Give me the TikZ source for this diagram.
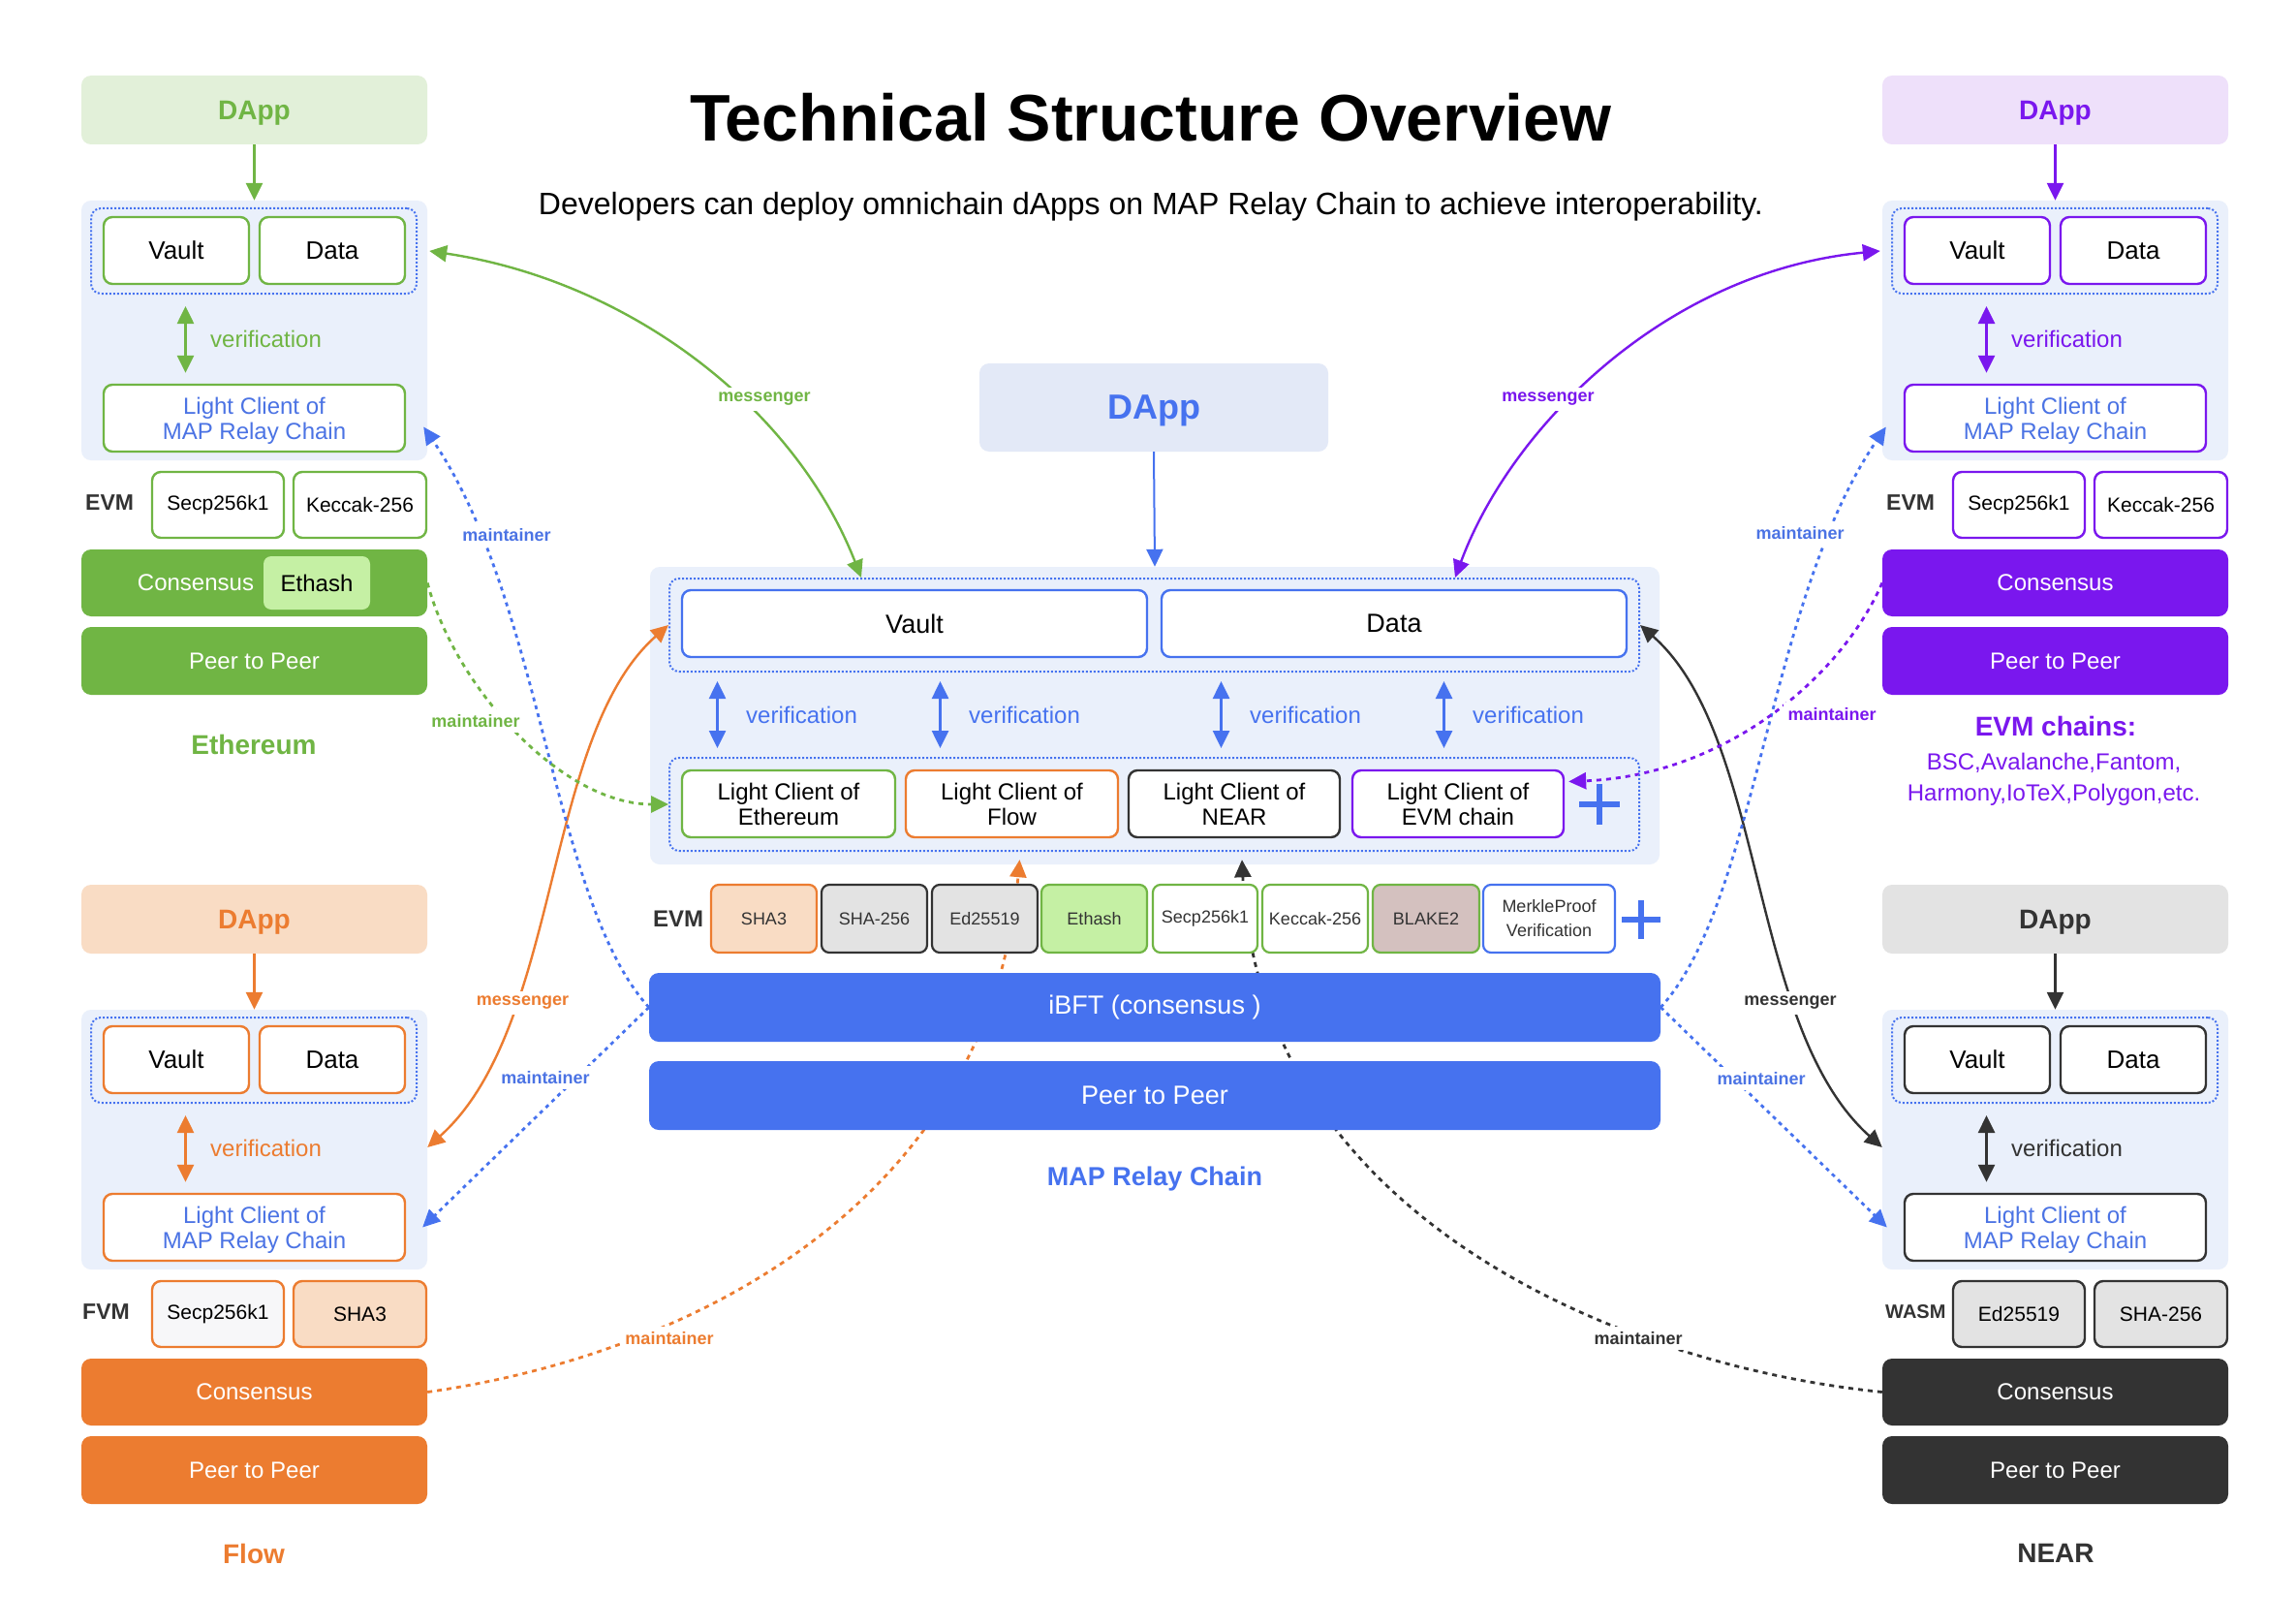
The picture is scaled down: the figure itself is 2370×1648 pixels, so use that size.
\documentclass[tikz,border=0pt]{standalone}
\usepackage{fontspec}
\setmainfont{Liberation Sans}
\usetikzlibrary{arrows.meta,calc}
\definecolor{cgreen}{HTML}{70B544}
\definecolor{greenlight}{HTML}{E2F0D9}
\definecolor{ethashfill}{HTML}{C5F0A4}
\definecolor{corange}{HTML}{EC7C30}
\definecolor{orangelight}{HTML}{F9DCC4}
\definecolor{cpurple}{HTML}{7A17EE}
\definecolor{purplelight}{HTML}{EEE0FA}
\definecolor{cdark}{HTML}{333333}
\definecolor{graylight}{HTML}{E3E3E3}
\definecolor{cblue}{HTML}{4672EF}
\definecolor{lcblue}{HTML}{4B73E4}
\definecolor{panelbg}{HTML}{EAF0FB}
\definecolor{cdappfill}{HTML}{E3E9F7}
\definecolor{blakefill}{HTML}{D4C1BF}
\definecolor{secpfill}{HTML}{F7F7F9}
\pgfdeclarelayer{back}
\pgfdeclarelayer{conn}
\pgfdeclarelayer{front}
\pgfsetlayers{back,conn,main,front}
\newcommand\fsz[2]{\fontsize{#1}{#2}\selectfont}
\newcommand\bx[7]{\node[inner sep=0pt,align=center,#2,minimum width={(#5-#3)*1pt},minimum height={(#6-#4)*1pt}] (#1) at ({(#3+#5)/2},{(#4+#6)/2}) {#7};}
\tikzset{
 Tri/.tip={Triangle[length=18pt,width=17pt]},
 panel/.style={fill=panelbg,rounded corners=10pt},
 dotbox/.style={draw=cblue,line width=2pt,dash pattern=on 2pt off 2pt,rounded corners=10pt},
 wbox/.style={fill=white,line width=2.4pt,rounded corners=9pt,font=\fsz{26}{28}},
 lcbox/.style={fill=white,line width=2.4pt,rounded corners=9pt,font=\fsz{24}{26},text depth=0pt},
 dappbox/.style={rounded corners=10pt,font=\bfseries\fsz{28}{30},text depth=0pt},
 bar/.style={rounded corners=10pt,text=white,font=\fsz{24}{26}},
 cbox/.style={fill=white,line width=2.4pt,rounded corners=9pt,font=\fsz{21}{23}},
 kbox/.style={line width=2.2pt,rounded corners=8pt,text=cdark,font=\fsz{18}{25}},
 vmlab/.style={text=cdark,font=\bfseries\fsz{23}{25},anchor=west,inner sep=0pt},
 arr/.style={line width=2.6pt,-Tri},
 dbl/.style={line width=2.6pt,Tri-Tri},
 msg/.style={line width=2.4pt,Tri-Tri},
 mnt/.style={line width=2.8pt,dash pattern=on 5pt off 5pt,-Tri},
 mntb/.style={line width=2.8pt,-Tri,cblue,dash pattern=on 4pt off 4.5pt},
 lbl/.style={fill=white,inner sep=5pt,font=\bfseries\fsz{18}{20}},
 vtext/.style={font=\fsz{24}{26},anchor=west,inner sep=0pt},
 chainlab/.style={font=\bfseries\fsz{28}{30}},
}
\newcommand\sidecore[3]{%
 \bx{#1dapp}{dappbox,fill=#3,text=#2}{0}{0}{357}{71}{DApp}
 \begin{pgfonlayer}{back}\bx{#1panel}{panel}{0}{129}{357}{397}{}\end{pgfonlayer}
 \bx{#1dot}{dotbox}{10}{137}{346}{225}{}
 \bx{#1vault}{wbox,draw=#2}{23}{146}{173}{215}{Vault}
 \bx{#1data}{wbox,draw=#2}{184}{146}{334}{215}{Data}
 \bx{#1lc}{lcbox,draw=#2,text=lcblue}{23}{319}{334}{388}{Light Client of\\MAP Relay Chain}
 \coordinate (#1vx) at (107.5,0);
 \draw[dbl,#2,shorten <=12pt,shorten >=11pt] (#1dot.south -| #1vx) -- (#1lc.north -| #1vx);
 \node[vtext,text=#2] (#1vt) at (133,272) {verification};
 \draw[arr,#2] (#1dapp.south) -- (#1panel.north);
}
\begin{document}
\begin{tikzpicture}[x=1pt,y=-1pt]
\useasboundingbox (0,0) rectangle (2370,1648);
\begin{pgfonlayer}{back}\fill[white] (0,0) rectangle (2370,1648);\end{pgfonlayer}

% title
\node[font=\bfseries\fsz{68}{72}] (title) at (1188,121) {Technical Structure Overview};
\node[font=\fsz{32}{36}] (subtitle) at (1188,213) {Developers can deploy omnichain dApps on MAP Relay Chain to achieve interoperability.};

% Ethereum
\begin{scope}[shift={(84,78)}]
\sidecore{e}{cgreen}{greenlight}
\node[vmlab] (elab) at (4,441) {EVM};
\bx{esecp}{cbox,draw=cgreen}{73}{409}{209}{477}{Secp256k1}
\bx{ekec}{cbox,draw=cgreen}{219}{409}{356}{477}{Keccak-256}
\bx{econs}{bar,fill=cgreen}{0}{489}{357}{558}{}
\node[text=white,font=\fsz{24}{26}] (econst) at (118,523.5) {Consensus};
\bx{ethash}{rounded corners=8pt,fill=ethashfill,font=\fsz{24}{26}}{188}{496}{298}{551}{Ethash}
\bx{ep2p}{bar,fill=cgreen}{0}{569}{357}{639}{Peer to Peer}
\node[chainlab,text=cgreen] (ename) at (178,690) {Ethereum};
\end{scope}

% EVM chains
\begin{scope}[shift={(1943,78)}]
\sidecore{v}{cpurple}{purplelight}
\node[vmlab] (vlab) at (4,441) {EVM};
\bx{vsecp}{cbox,draw=cpurple}{73}{409}{209}{477}{Secp256k1}
\bx{vkec}{cbox,draw=cpurple}{219}{409}{356}{477}{Keccak-256}
\bx{vcons}{bar,fill=cpurple}{0}{489}{357}{558}{Consensus}
\bx{vp2p}{bar,fill=cpurple}{0}{569}{357}{639}{Peer to Peer}
\node[chainlab,text=cpurple] (vname) at (179,671) {EVM chains:};
\node[text=cpurple,font=\fsz{24}{32},align=center] (vlist) at (177,726) {BSC,Avalanche,Fantom,\\Harmony,IoTeX,Polygon,etc.};
\end{scope}

% Flow
\begin{scope}[shift={(84,913)}]
\sidecore{f}{corange}{orangelight}
\node[vmlab] (flab) at (1,441) {FVM};
\bx{fsecp}{cbox,draw=corange,fill=secpfill}{73}{409}{209}{477}{Secp256k1}
\bx{fsha}{cbox,draw=corange,fill=orangelight}{219}{409}{356}{477}{SHA3}
\bx{fcons}{bar,fill=corange}{0}{489}{357}{558}{Consensus}
\bx{fp2p}{bar,fill=corange}{0}{569}{357}{639}{Peer to Peer}
\node[chainlab,text=corange] (fname) at (178,690) {Flow};
\end{scope}

% NEAR
\begin{scope}[shift={(1943,913)}]
\sidecore{n}{cdark}{graylight}
\node[vmlab,font=\bfseries\fsz{20}{22}] (nlab) at (3,441) {WASM};
\bx{ned}{cbox,draw=cdark,fill=graylight}{73}{409}{209}{477}{Ed25519}
\bx{nsha}{cbox,draw=cdark,fill=graylight}{219}{409}{356}{477}{SHA-256}
\bx{ncons}{bar,fill=cdark}{0}{489}{357}{558}{Consensus}
\bx{np2p}{bar,fill=cdark}{0}{569}{357}{639}{Peer to Peer}
\node[chainlab,text=cdark] (nname) at (179,690) {NEAR};
\end{scope}

% central
\bx{cdapp}{dappbox,fill=cdappfill,text=cblue,font=\bfseries\fsz{36}{40}}{1011}{375}{1371}{466}{DApp}
\begin{pgfonlayer}{back}\bx{cpanel}{panel}{671}{585}{1713}{892}{}\end{pgfonlayer}
\draw[line width=2pt,-Tri,cblue] (cdapp.south) -- (cpanel.north);
\bx{ctop}{dotbox}{691}{597}{1692}{693}{}
\bx{cvault}{wbox,draw=cblue,font=\fsz{27}{29}}{704}{609}{1184}{678}{Vault}
\bx{cdata}{wbox,draw=cblue,font=\fsz{27}{29}}{1199}{609}{1679}{678}{Data}
\bx{cbot}{dotbox}{691}{782}{1692}{878}{}
\bx{lceth}{lcbox,draw=cgreen}{704}{795}{924}{864}{Light Client of\\Ethereum}
\bx{lcflow}{lcbox,draw=corange}{935}{795}{1154}{864}{Light Client of\\Flow}
\bx{lcnear}{lcbox,draw=cdark}{1165}{795}{1383}{864}{Light Client of\\NEAR}
\bx{lcevm}{lcbox,draw=cpurple}{1396}{795}{1614}{864}{Light Client of\\EVM chain}
\foreach \i/\x in {1/740.5,2/970.5,3/1260.5,4/1490.5}{
 \coordinate (cv\i) at (\x,0);
 \draw[dbl,cblue,shorten <=9pt,shorten >=9pt] (ctop.south -| cv\i) -- (cbot.north -| cv\i);
 \node[vtext,text=cblue] (cvt\i) at ({\x+29.5},738) {verification};
}
\coordinate (plusa) at (1651,830);
\draw[cblue,line width=6pt] ($(plusa)+(-21,0)$) -- ($(plusa)+(21,0)$) ($(plusa)+(0,-21)$) -- ($(plusa)+(0,21)$);

\node[vmlab,font=\bfseries\fsz{24}{26}] (cevm) at (674,948) {EVM};
\bx{ksha3}{kbox,fill=orangelight,draw=corange}{734}{913}{843}{983}{SHA3}
\bx{ksha256}{kbox,fill=graylight,draw=cdark}{848}{913}{957}{983}{SHA-256}
\bx{ked}{kbox,fill=graylight,draw=cdark}{962}{913}{1071}{983}{Ed25519}
\bx{keth}{kbox,fill=ethashfill,draw=cgreen}{1075}{913}{1184}{983}{Ethash}
\bx{ksecp}{kbox,fill=white,draw=cgreen}{1190}{913}{1298}{983}{Secp256k1}
\bx{kkec}{kbox,fill=white,draw=cgreen}{1303}{913}{1412}{983}{Keccak-256}
\bx{kblake}{kbox,fill=blakefill,draw=cgreen}{1417}{913}{1527}{983}{BLAKE2}
\bx{kmerkle}{kbox,fill=white,draw=cblue}{1531}{913}{1667}{983}{MerkleProof\\Verification}
\coordinate (plusb) at (1694,949);
\draw[cblue,line width=5.5pt] ($(plusb)+(-20,0)$) -- ($(plusb)+(20,0)$) ($(plusb)+(0,-20)$) -- ($(plusb)+(0,20)$);

\bx{ibft}{bar,fill=cblue,font=\fsz{27}{29}}{670}{1004}{1714}{1075}{iBFT (consensus )}
\bx{cp2p}{bar,fill=cblue,font=\fsz{27}{29}}{670}{1095}{1714}{1166}{Peer to Peer}
\node[chainlab,text=cblue,font=\bfseries\fsz{27}{29}] (cname) at (1192,1217) {MAP Relay Chain};

% connectors
\begin{pgfonlayer}{conn}
% messengers
\draw[msg,cgreen] ($(epanel.east |- edot.center)+(2,0)$) .. controls (650,290) and (820,420) .. ($(ctop.north west)+(199,0)$);
\draw[msg,cpurple] ($(ctop.north west)+(812,0)$) .. controls (1560,440) and (1720,280) .. ($(vpanel.west |- vdot.center)+(-2,0)$);
\draw[msg,corange] (ctop.west) .. controls (560,760) and (580,1060) .. ($(fpanel.east)+(0,8)$);
\draw[msg,cdark] (ctop.east) .. controls (1824,760) and (1804,1060) .. ($(npanel.west)+(0,8)$);
% blue maintainers
\draw[mntb] (ibft.west) .. controls (570,930) and (560,620) .. ($(epanel.east |- elc.center)+(-4,9)$);
\draw[mntb] (ibft.west) -- ($(fpanel.east |- flc.center)+(-5,0)$);
\draw[mntb] (ibft.east) .. controls (1814,930) and (1824,620) .. ($(vpanel.west |- vlc.center)+(4,9)$);
\draw[mntb] (ibft.east) -- ($(npanel.west |- nlc.center)+(5,0)$);
% chain maintainers
\draw[mnt,cgreen] (econs.east) .. controls (470,710) and (580,830) .. (cbot.west);
\draw[mnt,cpurple] (vcons.west) .. controls (1900,700) and (1780,800) .. ($(lcevm.east)+(4,-23)$);
\draw[mnt,corange] (fcons.east) .. controls (700,1400) and (1020,1250) .. ($(lcflow.south)+(8,22)$);
\draw[mnt,cdark] (ncons.west) .. controls (1680,1410) and (1300,1260) .. ($(lcnear.south)+(8,22)$);
\end{pgfonlayer}

\begin{pgfonlayer}{front}
\node[lbl,text=cgreen] (lm1) at (789,412) {messenger};
\node[lbl,text=cpurple] (lm2) at (1598,412) {messenger};
\node[lbl,text=corange] (lm3) at (539.5,1035) {messenger};
\node[lbl,text=cdark] (lm4) at (1848,1035) {messenger};
\node[lbl,text=lcblue] (lb1) at (523,552) {maintainer};
\node[lbl,text=lcblue] (lb2) at (563,1112) {maintainer};
\node[lbl,text=lcblue] (lb3) at (1858,550) {maintainer};
\node[lbl,text=lcblue] (lb4) at (1818,1113) {maintainer};
\node[lbl,text=cgreen] (lc1) at (491,744) {maintainer};
\node[lbl,text=cpurple] (lc2) at (1891,737) {maintainer};
\node[lbl,text=corange] (lc3) at (691,1381) {maintainer};
\node[lbl,text=cdark] (lc4) at (1691,1381) {maintainer};
\end{pgfonlayer}
\end{tikzpicture}
\end{document}
